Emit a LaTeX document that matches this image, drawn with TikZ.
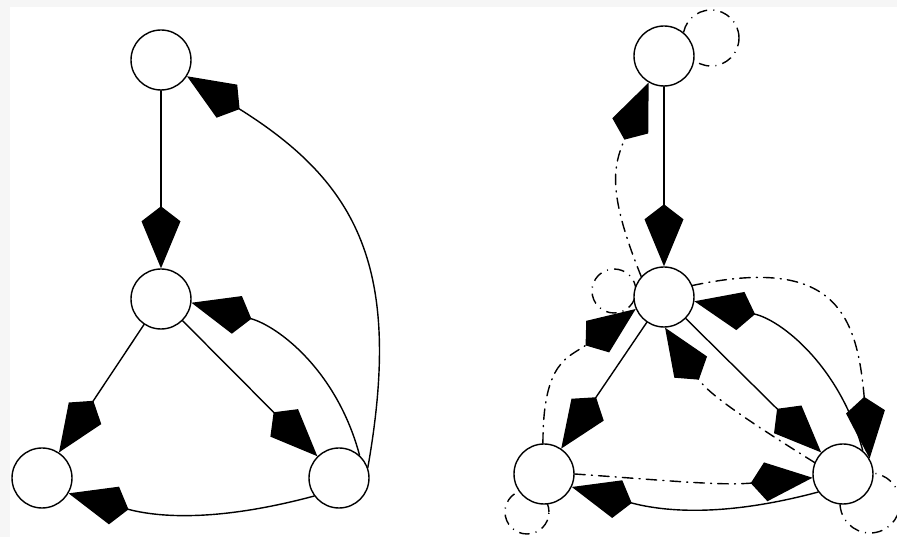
\documentclass[tikz,border=0pt]{standalone}
\usetikzlibrary{arrows.meta,backgrounds}
\definecolor{bggray}{RGB}{246,246,246}

\begin{document}
\begin{tikzpicture}[line cap=round, line join=round,
  vertex/.style={circle, draw, thick, fill=white, minimum size=1.2cm, inner sep=0pt},
  kite/.style={thick, -{Kite[length=1.24cm, width=0.78cm, inset=0.3cm]}},
  dashdotline/.style={kite, dash pattern=on 6pt off 3.5pt on 0.6pt off 3.5pt},
  loopline/.style={thick, dash pattern=on 6pt off 3.5pt on 0.6pt off 3.5pt}]
  \useasboundingbox (0,0) rectangle (17.94,10.74);

  % Left graph vertices
  \node[vertex] (Ltop) at (3.22, 9.54) {};
  \node[vertex] (Lmid) at (3.22, 4.76) {};
  \node[vertex] (Lbl) at (0.84, 1.18) {};
  \node[vertex] (Lbr) at (6.78, 1.18) {};

  % Right graph vertices
  \node[vertex] (Rtop) at (13.28, 9.62) {};
  \node[vertex] (Rmid) at (13.28, 4.80) {};
  \node[vertex] (Rbl) at (10.88, 1.26) {};
  \node[vertex] (Rbr) at (16.86, 1.26) {};

  % Background and self loops
  \begin{scope}[on background layer]
    \fill[bggray] (0,0) rectangle (17.94,10.74);
    \fill[white] (0.2,0) rectangle (17.94,10.6);
    \draw[loopline] ([shift={(0.94,0.36)}]Rtop.center) circle (0.56);
    \draw[loopline] ([shift={(-1.0,0.12)}]Rmid.center) circle (0.44);
    \draw[loopline] ([shift={(-0.34,-0.76)}]Rbl.center) circle (0.44);
    \draw[loopline] ([shift={(0.54,-0.58)}]Rbr.center) circle (0.6);
  \end{scope}

  % Left edges
  \draw[kite] (Ltop) -- (Lmid);
  \draw[kite] (Lmid) -- (Lbl);
  \draw[kite] (Lmid) -- (Lbr);
  \draw[kite] (Lbr.20) to[out=80, in=-32, looseness=1.2] (Ltop.-32);
  \draw[kite] (Lbr.48) to[out=105, in=-15] (Lmid.-7);
  \draw[kite] (Lbr.216) to[out=195, in=-15] (Lbl.-30);

  % Right edges (solid)
  \draw[kite] (Rtop) -- (Rmid);
  \draw[kite] (Rmid) -- (Rbl);
  \draw[kite] (Rmid) -- (Rbr);
  \draw[kite] (Rbr.50) to[out=105, in=-12] (Rmid.-8);
  \draw[kite] (Rbr.216) to[out=195, in=-15] (Rbl.-25);

  % Right edges (dash-dotted)
  \draw[dashdotline] (Rmid.138) to[out=112, in=-113, looseness=1.2] (Rtop.-120);
  \draw[dashdotline] (Rbl.92) to[out=90, in=-144, looseness=1.3] (Rmid.203);
  \draw[dashdotline] (Rmid.22) to[out=12, in=95, looseness=1.5] (Rbr.30);
  \draw[dashdotline] (Rbr.158) to[out=148, in=-57] (Rmid.-88);
  \draw[dashdotline] (Rbl.0) to[out=-4, in=185] (Rbr.187);
\end{tikzpicture}
\end{document}
